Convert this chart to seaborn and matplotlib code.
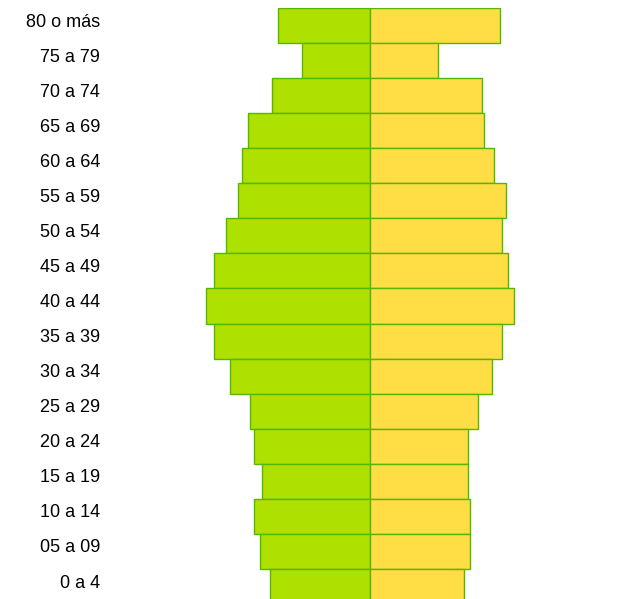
import pandas as pd
import matplotlib.pyplot as plt
import matplotlib.transforms as mtransforms
import seaborn as sns

# ==== DATA ====
ages = ["80 o más", "75 a 79", "70 a 74", "65 a 69", "60 a 64", "55 a 59",
        "50 a 54", "45 a 49", "40 a 44", "35 a 39", "30 a 34", "25 a 29",
        "20 a 24", "15 a 19", "10 a 14", "05 a 09", "0 a 4"]
hombres = [92, 68, 98, 122, 128, 132, 144, 156, 164, 156, 140, 120, 116, 108, 116, 110, 100]
mujeres = [130, 68, 112, 114, 124, 136, 132, 138, 144, 132, 122, 108, 98, 98, 100, 100, 94]

df = pd.DataFrame({"edad": ages, "hombres": hombres, "mujeres": mujeres})
df["hombres_neg"] = -df["hombres"]

sns.set_style("white")
plt.rcParams["font.family"] = ["Liberation Sans", "DejaVu Sans"]

# ==== PYRAMID ====
fig = plt.figure(figsize=(6.33, 5.99), dpi=100)
ax = fig.add_axes([110 / 633, 0, 520 / 633, 1 - 8 / 599])

sns.barplot(data=df, x="hombres_neg", y="edad", orient="h", color="#aee000",
            saturation=1, width=1.0, edgecolor="#55b800", linewidth=1, ax=ax)
sns.barplot(data=df, x="mujeres", y="edad", orient="h", color="#ffdd44",
            saturation=1, width=1.0, edgecolor="#55b800", linewidth=1, ax=ax)

ax.set_xlim(-260, 260)
ax.set_ylim(16.356, -0.5)
ax.set_xlabel("")
ax.set_ylabel("")
ax.set_xticks([])
ax.tick_params(axis="y", length=0, pad=7, labelsize=13, labelcolor="black")
sns.despine(ax=ax, left=True, bottom=True)

# labels sit a little above the bar centres
shift = mtransforms.ScaledTranslation(0, 5.5 / 100, fig.dpi_scale_trans)
for lab in ax.get_yticklabels():
    lab.set_transform(lab.get_transform() + shift)

plt.savefig("out.png", dpi=100)
